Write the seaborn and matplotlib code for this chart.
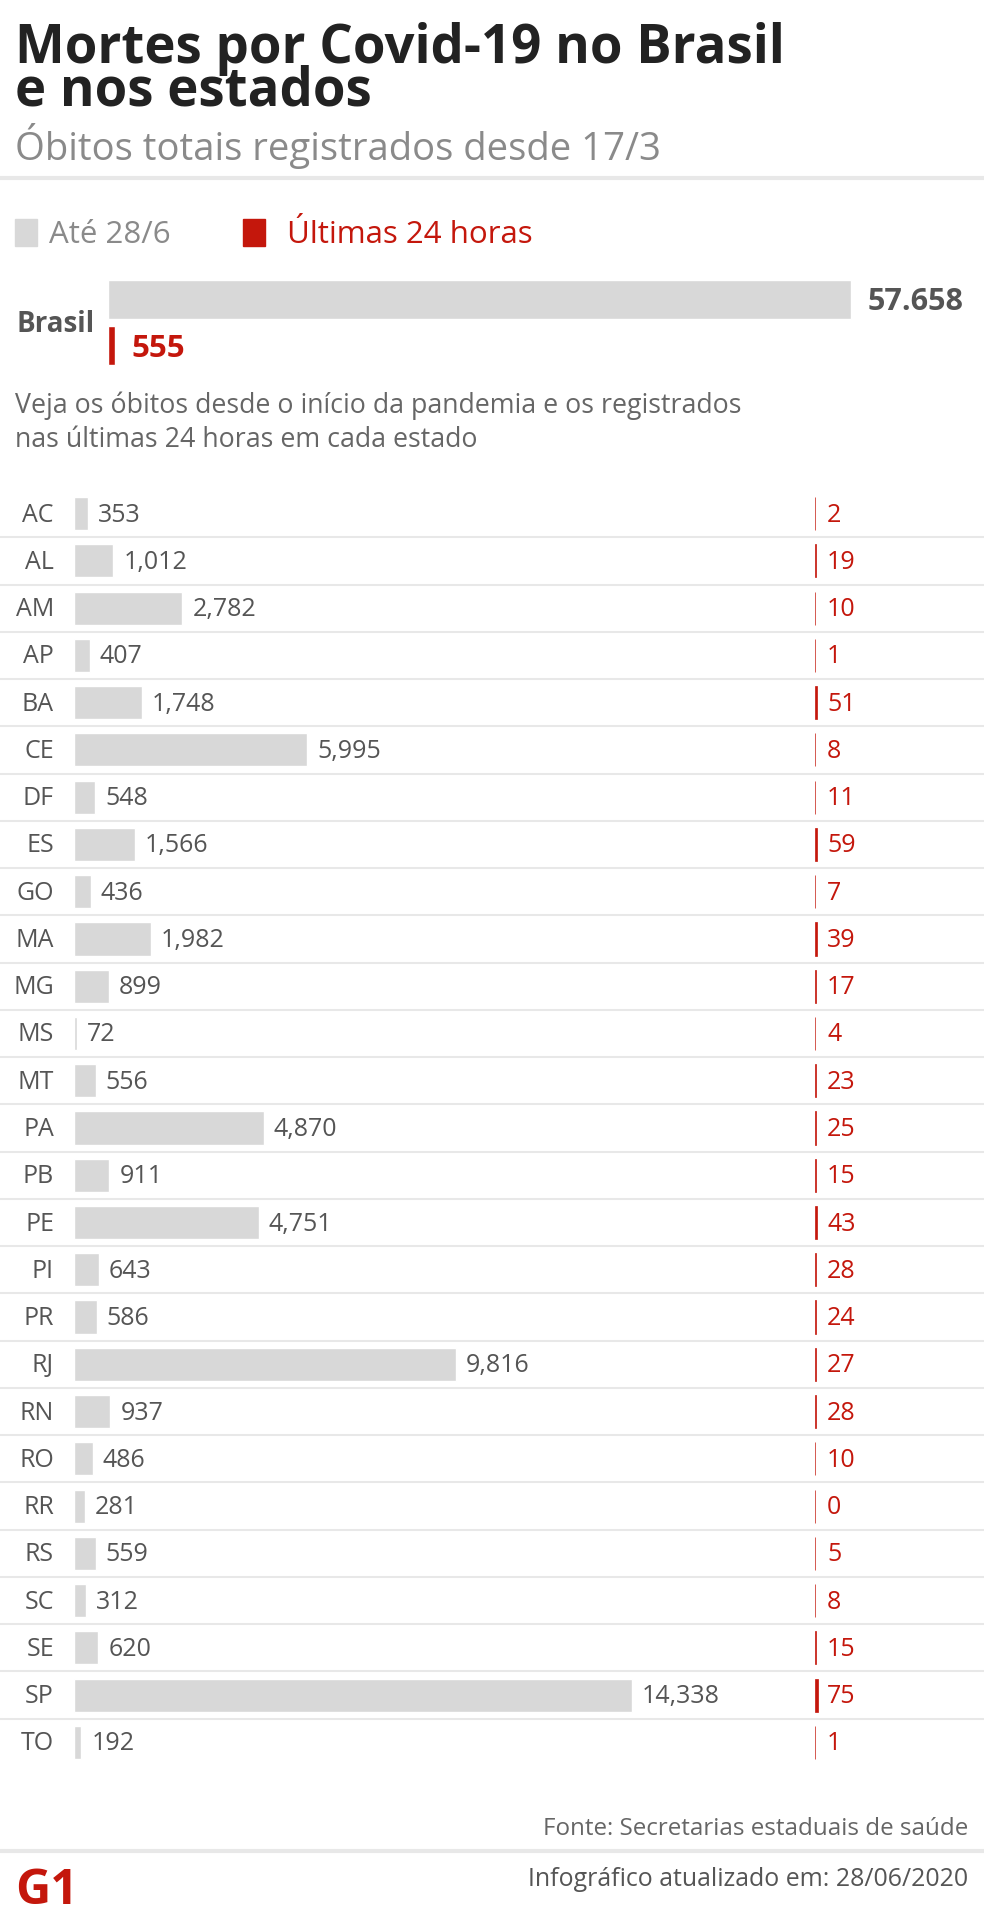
import numpy as np
import pandas as pd
import matplotlib
matplotlib.use("Agg")
import matplotlib.pyplot as plt
import seaborn as sns

# dados
estados = ["AC", "AL", "AM", "AP", "BA", "CE", "DF", "ES", "GO", "MA", "MG", "MS", "MT", "PA",
           "PB", "PE", "PI", "PR", "RJ", "RN", "RO", "RR", "RS", "SC", "SE", "SP", "TO"]
obitos = [353, 1012, 2782, 407, 1748, 5995, 548, 1566, 436, 1982, 899, 72, 556, 4870,
          911, 4751, 643, 586, 9816, 937, 486, 281, 559, 312, 620, 14338, 192]
ultimas_24h = [2, 19, 10, 1, 51, 8, 11, 59, 7, 39, 17, 4, 23, 25,
               15, 43, 28, 24, 27, 28, 10, 0, 5, 8, 15, 75, 1]
brasil_series = ["Até 28/6", "Últimas 24 horas"]
brasil_valores = [57658, 555]

sns.set_theme(style="white")
plt.rcParams["font.family"] = ["Open Sans", "DejaVu Sans"]

W, H = 984, 1926
CINZA = "#d8d8d8"
VERMELHO = "#c4170c"
fig = plt.figure(figsize=(W / 100, H / 100), dpi=100)
fig.patch.set_facecolor("white")


def txt(x, y, s, **kw):
    fig.text(x / W, 1 - y / H, s, **kw)


def eixo(x0, y0, x1, y1):
    return fig.add_axes([x0 / W, 1 - y1 / H, (x1 - x0) / W, (y1 - y0) / H])


# cabeçalho
txt(15, 105, "Mortes por Covid-19 no Brasil\ne nos estados", fontsize=38, fontweight="bold",
    color="#222222", va="baseline", linespacing=0.7)
txt(15, 160, "Óbitos totais registrados desde 17/3", fontsize=27.5, color="#8a8a8a")
fig.add_artist(plt.Line2D([0, 1], [1 - 178 / H] * 2, color="#e8e8e8", lw=3))

# legenda
fig.add_artist(plt.Rectangle((15 / W, 1 - 246 / H), 22 / W, 27 / H, color=CINZA))
txt(49, 243, "Até 28/6", fontsize=22.5, color="#8a8a8a")
fig.add_artist(plt.Rectangle((243 / W, 1 - 246 / H), 22 / W, 27 / H, color=VERMELHO))
txt(287, 243, "Últimas 24 horas", fontsize=22.5, color=VERMELHO)

# Brasil
esc_br = 743 / brasil_valores[0]
axb = eixo(108, 277, 984, 368)
df_br = pd.DataFrame({"serie": brasil_series, "valor": brasil_valores})
sns.barplot(data=df_br, x="valor", y="serie", hue="serie", palette=[CINZA, VERMELHO],
            orient="h", width=0.85, saturation=1, legend=False, ax=axb)
axb.set_xlim(0, 876 / esc_br)
axb.set_ylim(1.5, -0.5)
axb.axis("off")
txt(868, 310, f"{brasil_valores[0]:,}".replace(",", "."), fontsize=22, fontweight="bold", color="#555555")
txt(95, 332, "Brasil", fontsize=20, fontweight="bold", color="#555555", ha="right")
txt(131, 357, f"{brasil_valores[1]}", fontsize=22.5, fontweight="bold", color=VERMELHO)

txt(15, 413, "Veja os óbitos desde o início da pandemia e os registrados", fontsize=19.3, color="#666666")
txt(15, 447, "nas últimas 24 horas em cada estado", fontsize=19.3, color="#666666")

# estados
esc = 558 / max(obitos)
y_top, y_bot = 490, 1766
row_px = (y_bot - y_top) / len(estados)
ax = eixo(0, y_top, W, y_bot)
sns.barplot(x=obitos, y=estados, orient="h", color=CINZA, width=0.70, saturation=1, ax=ax)
ax.set_xlim(-74 / esc, (W - 74) / esc)
ax.set_ylim(len(estados) - 0.5, -0.5)
ax.axis("off")
off = 8 / row_px
for i, (uf, v) in enumerate(zip(estados, obitos)):
    ax.text(-20 / esc, i + off, uf, ha="right", va="baseline", fontsize=18, color="#555555")
    ax.text(v + 10 / esc, i + off, f"{v:,}", ha="left", va="baseline", fontsize=18, color="#555555")
for k in range(len(estados) - 1):
    ax.axhline(k + 0.5, color="#e8e8e8", lw=1.5)

ax2 = eixo(815, y_top, W, y_bot)
sns.barplot(x=ultimas_24h, y=estados, orient="h", color=VERMELHO, width=0.70, saturation=1,
            edgecolor=VERMELHO, linewidth=0.5, ax=ax2)
ax2.set_xlim(0, (W - 815) / esc)
ax2.set_ylim(len(estados) - 0.5, -0.5)
ax2.axis("off")
for i, v in enumerate(ultimas_24h):
    ax2.text(12 / esc, i + off, f"{v}", ha="left", va="baseline", fontsize=18, color=VERMELHO)

# rodapé
txt(968, 1835, "Fonte: Secretarias estaduais de saúde", fontsize=17.4, color="#666666", ha="right")
fig.add_artist(plt.Line2D([0, 1], [1 - 1851 / H] * 2, color="#e8e8e8", lw=3))
txt(968, 1886, "Infográfico atualizado em: 28/06/2020", fontsize=17.9, color="#555555", ha="right")
txt(15, 1904, "G1", fontsize=35, fontweight="bold", color=VERMELHO)

fig.savefig("out.png", dpi=100, facecolor="white")
